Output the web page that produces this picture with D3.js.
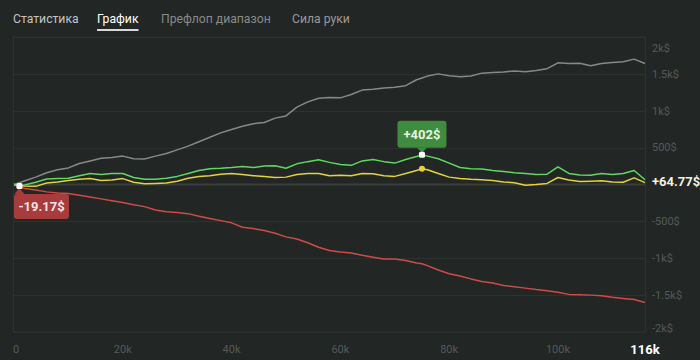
<!DOCTYPE html>
<html><head><meta charset="utf-8">
<script src="https://cdn.jsdelivr.net/npm/d3@7"></script>
<style>
html,body{margin:0;padding:0;background:#222625;}
svg{display:block;}
</style></head>
<body>
<svg id="c" width="700" height="360"></svg>
<script>
// ---- data ----
const tabs = ["Статистика", "График", "Префлоп диапазон", "Сила руки"];
const activeTab = "График";
const hands = [0,1,2,4,6,8,10,12,14,16,18,20,22,24,26,28,30,32,34,36,38,40,42,44,46,48,50,52,54,56,58,60,62,64,66,68,70,72,74,75,76,78,80,82,84,86,88,90,92,94,96,98,100,102,104,106,108,110,112,114,116]; // thousands
const totalWon = [0,25,50,100,160,200,225,285,320,355,365,385,350,345,385,420,470,520,580,640,700,745,790,825,840,900,930,1050,1120,1170,1180,1175,1220,1280,1290,1310,1320,1340,1420,1445,1470,1500,1475,1460,1470,1510,1520,1525,1540,1530,1545,1570,1650,1640,1645,1610,1640,1655,1665,1700,1640];
const netWon = [0,-19.17,-5,30,75,80,85,120,150,135,150,150,95,70,72,85,110,150,190,215,220,230,245,230,250,255,220,280,310,335,300,270,260,320,340,310,290,340,380,402,385,350,290,230,215,210,190,175,160,150,135,140,240,150,130,125,150,135,150,190,64.77];
const allInEv = [0,-15,-20,-25,20,35,55,70,80,55,60,80,30,10,15,20,45,85,110,120,140,150,135,120,110,95,100,135,150,150,120,125,120,150,145,120,110,150,190,215,200,150,100,80,70,65,55,35,25,-10,0,15,95,60,40,45,50,35,30,90,25];
const rake = [0,-35,-55,-75,-100,-115,-122,-145,-170,-195,-220,-245,-275,-300,-345,-370,-380,-395,-430,-462,-490,-520,-580,-598,-625,-660,-710,-740,-790,-850,-895,-915,-930,-960,-985,-1010,-1010,-1030,-1065,-1075,-1100,-1160,-1210,-1240,-1280,-1315,-1335,-1370,-1385,-1405,-1425,-1440,-1460,-1490,-1495,-1500,-1510,-1530,-1545,-1560,-1600];
const yTicks = [2000,1500,1000,500,-500,-1000,-1500,-2000];
const yTickLabels = ["2k$","1.5k$","1k$","500$","-500$","-1k$","-1.5k$","-2k$"];
const xTicks = [0,20,40,60,80,100];
const xTickLabels = ["0","20k","40k","60k","80k","100k"];
const xMaxLabel = "116k";
const minLabel = "-19.17$";
const maxLabel = "+402$";
const endLabel = "+64.77$";

// ---- drawing ----
const svg = d3.select("#c");
const font = "Roboto, 'Noto Sans', sans-serif";

// tabs
const tabX = [13, 97, 161, 292];
const tabColors = ["#c4c4c4", "#ffffff", "#8a8a8a", "#9a9a9a"];
const tabNodes = [];
tabs.forEach((t, i) => {
  const n = svg.append("text").attr("x", tabX[i]).attr("y", 23)
    .attr("font-family", font).attr("font-size", 12.2)
    .attr("fill", tabColors[i]).text(t);
  tabNodes.push(n.node());
});
const at = tabs.indexOf(activeTab);
const atW = tabNodes[at].getComputedTextLength();
svg.append("rect").attr("x", tabX[at]).attr("y", 29).attr("width", atW).attr("height", 2).attr("fill", "#d8d8d8");

const L = 14, R = 645, T = 37, B = 332;
const x = d3.scaleLinear().domain([0, 116]).range([L, R]);
const y = d3.scaleLinear().domain([-2000, 2000]).range([B, T]);

// grid
const g = svg.append("g");
g.append("rect").attr("x", L - 0.5).attr("y", T).attr("width", R - L + 1).attr("height", B - T)
  .attr("fill", "none").attr("stroke", "#2d3230").attr("stroke-width", 1);
yTicks.forEach(v => {
  g.append("line").attr("x1", L).attr("x2", R).attr("y1", Math.round(y(v)) + 0.5).attr("y2", Math.round(y(v)) + 0.5)
    .attr("stroke", "#2d3230").attr("stroke-width", 1);
});
g.append("line").attr("x1", L).attr("x2", R).attr("y1", y(0)).attr("y2", y(0))
  .attr("stroke", "#3a3f3d").attr("stroke-width", 2);

// y labels
yTicks.forEach((v, i) => {
  let yy = y(v);
  if (v === 2000) yy = 48;
  if (v === -2000) yy = 328;
  svg.append("text").attr("x", 652).attr("y", yy).attr("dy", "0.35em")
    .attr("font-family", font).attr("font-size", 11).attr("fill", "#555a58").text(yTickLabels[i]);
});
// x labels
xTicks.forEach((v, i) => {
  svg.append("text").attr("x", x(v) + (v === 0 ? 2 : 0)).attr("y", 349).attr("dy", "0.35em")
    .attr("text-anchor", "middle").attr("font-family", font).attr("font-size", 11).attr("fill", "#555a58").text(xTickLabels[i]);
});
svg.append("text").attr("x", x(116)).attr("y", 349).attr("dy", "0.35em")
  .attr("text-anchor", "middle").attr("font-family", font).attr("font-size", 13).attr("font-weight", "bold")
  .attr("fill", "#ffffff").text(xMaxLabel);

// lines
const line = arr => d3.line().x((d, i) => x(hands[i])).y(d => y(d))(arr);
const series = [
  {data: totalWon, color: "#888888"},
  {data: rake, color: "#d04a48"},
  {data: allInEv, color: "#e3d23c"},
  {data: netWon, color: "#5fd85f"}
];
series.forEach(s => {
  svg.append("path").attr("d", line(s.data)).attr("fill", "none")
    .attr("stroke", s.color).attr("stroke-width", 1.5).attr("stroke-linejoin", "round");
});

// markers
const minI = d3.minIndex(netWon), maxI = d3.maxIndex(netWon);
const yMaxI = d3.maxIndex(allInEv);
svg.append("circle").attr("cx", x(hands[yMaxI])).attr("cy", y(allInEv[yMaxI])).attr("r", 3).attr("fill", "#e3d23c");

// min badge (red, below)
{
  const px = x(hands[minI]), py = y(netWon[minI]);
  const bx = L, by = py + 8, bw = 55, bh = 25;
  svg.append("path").attr("d", `M${px-5},${by} L${px},${py+2} L${px+5},${by} Z`).attr("fill", "#a83b3b");
  svg.append("rect").attr("x", bx).attr("y", by).attr("width", bw).attr("height", bh).attr("rx", 3).attr("fill", "#a83b3b");
  svg.append("text").attr("x", bx + bw / 2).attr("y", by + bh / 2).attr("dy", "0.36em").attr("text-anchor", "middle")
    .attr("font-family", font).attr("font-size", 13).attr("font-weight", "bold").attr("fill", "#f4e6e6").text(minLabel);
  svg.append("rect").attr("x", px - 3).attr("y", py - 3).attr("width", 6).attr("height", 6).attr("rx", 1.5).attr("fill", "#ffffff");
}
// max badge (green, above)
{
  const px = x(hands[maxI]), py = y(netWon[maxI]);
  const bw = 49, bh = 27, bx = px - bw / 2, by = py - 7 - bh;
  svg.append("path").attr("d", `M${px-5},${by+bh} L${px},${py-2} L${px+5},${by+bh} Z`).attr("fill", "#3f8c40");
  svg.append("rect").attr("x", bx).attr("y", by).attr("width", bw).attr("height", bh).attr("rx", 3).attr("fill", "#3f8c40");
  svg.append("text").attr("x", px).attr("y", by + bh / 2).attr("dy", "0.36em").attr("text-anchor", "middle")
    .attr("font-family", font).attr("font-size", 13).attr("font-weight", "bold").attr("fill", "#e6f4e0").text(maxLabel);
  svg.append("rect").attr("x", px - 3).attr("y", py - 3).attr("width", 6).attr("height", 6).attr("rx", 1.5).attr("fill", "#ffffff");
}
// end label
svg.append("text").attr("x", 652).attr("y", y(netWon[netWon.length - 1]) + 1.5).attr("dy", "0.35em")
  .attr("font-family", font).attr("font-size", 13).attr("font-weight", "bold").attr("fill", "#f2f2e4").text(endLabel);
</script>
</body></html>
